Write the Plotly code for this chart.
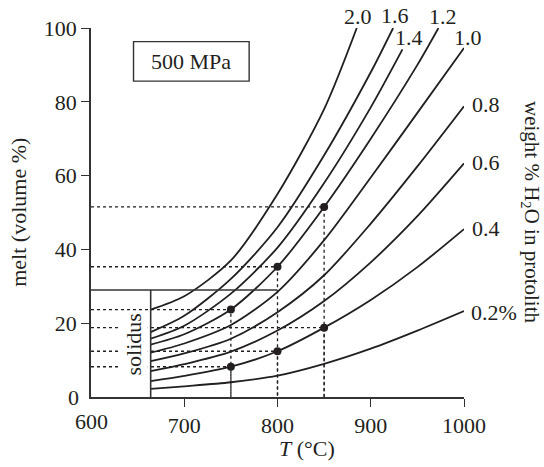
import plotly.graph_objects as go

# ---------------- data ----------------
T_low = [664, 700, 750, 800, 850, 900, 950, 1000]
melt_02 = [2.2, 2.9, 4.0, 5.8, 9.0, 13.1, 18.0, 23.3]
melt_04 = [4.3, 5.7, 8.2, 12.4, 18.8, 26.3, 35.2, 45.5]
melt_06 = [7.0, 8.9, 12.3, 18.0, 26.0, 36.5, 49.0, 63.3]
melt_08 = [9.7, 11.8, 15.8, 23.0, 33.0, 47.0, 62.5, 78.8]
melt_10 = [12.0, 14.5, 19.5, 28.5, 42.5, 59.5, 77.0, 94.6]
T_12 = [664, 700, 750, 800, 850, 900, 950, 972.6]
melt_12 = [14.2, 17.0, 23.7, 35.3, 51.5, 70.0, 90.0, 100]
T_14 = [664, 700, 750, 800, 850, 900, 934]
melt_14 = [15.8, 19.3, 28.0, 40.5, 58.0, 78.5, 94.2]
T_16 = [664, 700, 750, 800, 850, 900, 924]
melt_16 = [17.6, 22.0, 32.0, 46.0, 65.5, 88.0, 100]
T_20 = [664, 700, 750, 800, 850, 885]
melt_20 = [23.7, 27.3, 37.0, 55.0, 78.0, 100]

curve_T = [T_low, T_low, T_low, T_low, T_low, T_12, T_14, T_16, T_20]
curve_melt = [melt_02, melt_04, melt_06, melt_08, melt_10, melt_12, melt_14, melt_16, melt_20]

# water-content labels and their positions (T, melt)
label_text = ["0.2%", "0.4", "0.6", "0.8", "1.0", "1.2", "1.4", "1.6", "2.0"]
label_T = [1005.5, 1006.4, 1006.4, 1006.4, 1004, 977, 941, 926, 886]
label_melt = [22.8, 45.6, 63.5, 79.3, 97.3, 103.2, 97.5, 103.4, 103.2]
label_anchor = ["left", "left", "left", "left", "center", "center", "center", "center", "center"]

# highlighted points
dot_T = [750, 750, 800, 800, 850, 850]
dot_melt = [8.2, 23.7, 12.4, 35.3, 18.8, 51.5]

solidus_T = 664
solidus_box_melt = 29
solidus_box_T_end = 800

X_RANGE = [600, 1000]
Y_RANGE = [0, 100]
x_ticks = [700, 800, 900, 1000]
y_ticks = [20, 40, 60, 80, 100]

FONT = "Liberation Serif"
INK = "#231f20"
FS = 22


def px(t):
    return (t - X_RANGE[0]) / (X_RANGE[1] - X_RANGE[0])


def py(m):
    return (m - Y_RANGE[0]) / (Y_RANGE[1] - Y_RANGE[0])


fig = go.Figure()

# dotted guide lines
for t, m in zip(dot_T, dot_melt):
    fig.add_trace(go.Scatter(x=[X_RANGE[0], t, t], y=[m, m, 0], mode="lines",
                             line=dict(color=INK, width=1.3, dash="dot"),
                             hoverinfo="skip", showlegend=False))

# melt curves
for T, m in zip(curve_T, curve_melt):
    fig.add_trace(go.Scatter(x=T, y=m, mode="lines",
                             line=dict(color=INK, width=1.8, shape="spline", smoothing=0.8),
                             hoverinfo="skip", showlegend=False))

# dots
fig.add_trace(go.Scatter(x=dot_T, y=dot_melt, mode="markers",
                         marker=dict(color=INK, size=8), showlegend=False))

# solidus box
fig.add_shape(type="line", x0=solidus_T, x1=solidus_T, y0=0, y1=solidus_box_melt,
              line=dict(color="#333", width=1.6), layer="above")
fig.add_shape(type="line", x0=X_RANGE[0], x1=solidus_box_T_end, y0=solidus_box_melt, y1=solidus_box_melt,
              line=dict(color="#333", width=1.6), layer="above")

# 500 MPa box
fig.add_shape(type="rect", x0=645.6, x1=769.6, y0=85.6, y1=96.3,
              line=dict(color="#333", width=1.4), fillcolor="white")

annotations = [
    dict(x=707.6, y=90.9, text="500 MPa", showarrow=False, xanchor="center", yanchor="middle",
         font=dict(family=FONT, size=FS, color=INK)),
    dict(x=646, y=14.2, text="solidus", textangle=-90, showarrow=False,
         xanchor="center", yanchor="middle", bgcolor="white",
         font=dict(family=FONT, size=FS, color=INK)),
]
for t, x, y, a in zip(label_text, label_T, label_melt, label_anchor):
    annotations.append(dict(xref="paper", yref="paper", x=px(x), y=py(y), text=t,
                            showarrow=False, xanchor=a, yanchor="middle",
                            font=dict(family=FONT, size=FS, color=INK)))

# axis titles
annotations.append(dict(xref="paper", yref="paper", x=-0.195, y=0.5, text="melt (volume %)",
                        textangle=-90, showarrow=False, xanchor="center", yanchor="middle",
                        font=dict(family=FONT, size=FS, color=INK)))
annotations.append(dict(xref="paper", yref="paper", x=1.181, y=0.5,
                        text="weight % H<sub>2</sub>O in protolith",
                        textangle=90, showarrow=False, xanchor="center", yanchor="middle",
                        font=dict(family=FONT, size=21, color=INK)))
annotations.append(dict(xref="paper", yref="paper", x=0.579, y=-0.139, text="<i>T</i> (°C)",
                        showarrow=False, xanchor="center", yanchor="middle",
                        font=dict(family=FONT, size=FS, color=INK)))
# origin labels (no tick marks at the origin)
annotations.append(dict(xref="paper", yref="paper", x=0, y=0, text=str(X_RANGE[0]),
                        showarrow=False, xanchor="center", yanchor="top",
                        yshift=-10, font=dict(family=FONT, size=FS, color=INK)))
annotations.append(dict(xref="paper", yref="paper", x=0, y=0, text=str(Y_RANGE[0]),
                        showarrow=False, xanchor="right", yanchor="middle",
                        xshift=-10, font=dict(family=FONT, size=FS, color=INK)))

fig.update_layout(
    width=544, height=467,
    margin=dict(l=91, r=80, t=28, b=70),
    paper_bgcolor="white", plot_bgcolor="white",
    showlegend=False,
    annotations=annotations,
    xaxis=dict(range=X_RANGE, showline=True, linecolor="#333", linewidth=1.5,
               ticks="outside", ticklen=8, tickwidth=1.3, tickcolor="#333",
               tickvals=x_ticks, showgrid=False, zeroline=False,
               tickfont=dict(family=FONT, size=FS, color=INK)),
    yaxis=dict(range=Y_RANGE, showline=True, linecolor="#333", linewidth=1.5,
               ticks="outside", ticklen=8, tickwidth=1.3, tickcolor="#333",
               tickvals=y_ticks, showgrid=False, zeroline=False,
               tickfont=dict(family=FONT, size=FS, color=INK)),
)

fig.write_html("out.html")
